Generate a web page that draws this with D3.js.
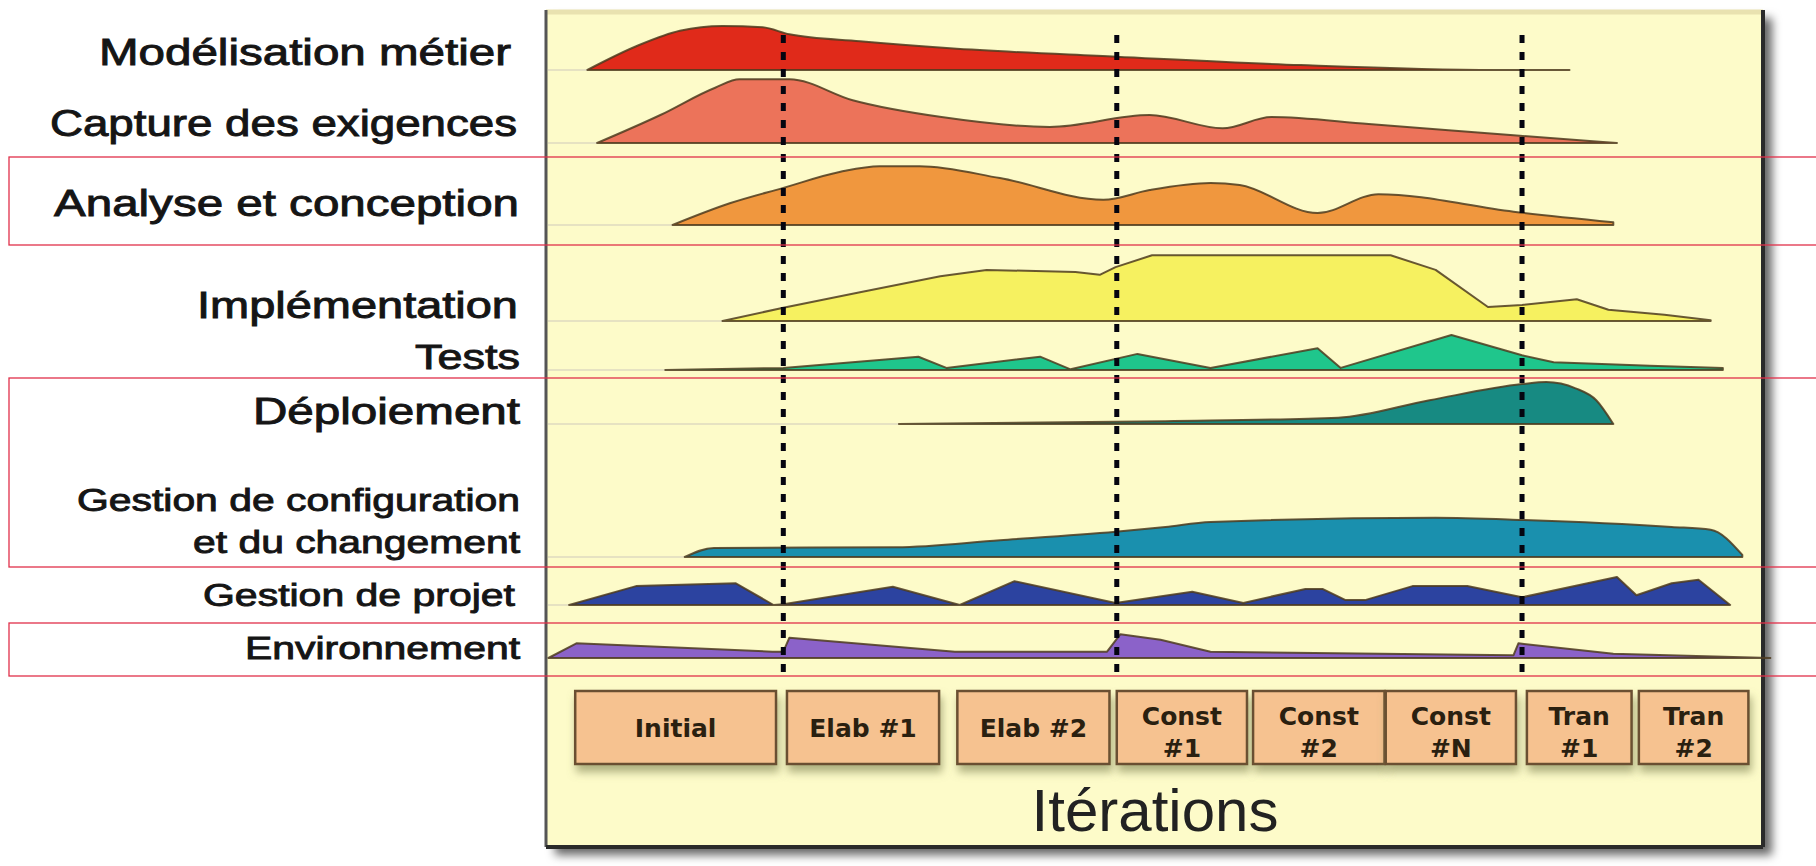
<!DOCTYPE html>
<html><head><meta charset="utf-8">
<script src="https://cdn.jsdelivr.net/npm/d3@7"></script>
<style>html,body{margin:0;padding:0;background:#fff;overflow:hidden}</style>
</head><body>
<svg id="c" width="1816" height="866"></svg>
<script>
// ---------- DATA ----------
const disciplines = ["Modélisation métier","Capture des exigences","Analyse et conception","Implémentation","Tests","Déploiement","Gestion de configuration|et du changement","Gestion de projet","Environnement"];

// time axis: 0..100 (% of project), effort: 0..100
const modelisationT = [3.4, 7.7, 11.0, 14.5, 17.8, 20.0, 25.8, 33.2, 46.9, 62.0, 78.0, 84.1];
const modelisationV = [0, 36, 56, 63, 61, 51, 41, 31, 19, 7, 0, 0];

const captureT = [4.2, 9.4, 13.9, 15.9, 20.0, 25.2, 32.5, 41.4, 49.6, 55.6, 59.6, 67.6, 79.5, 88.0];
const captureV = [0, 40, 79, 91, 91, 61, 37, 23, 40, 21, 37, 27, 11, 0];

const analyseT = [10.4, 15.1, 19.5, 24.2, 27.4, 30.7, 37.3, 45.8, 49.6, 54.6, 57.0, 63.4, 68.4, 79.5, 87.7];
const analyseV = [0, 31, 53, 76, 84, 84, 67, 36, 50, 60, 57, 17, 44, 19, 4];

const implementationT = [14.5, 19.5, 25.8, 32.4, 36.2, 43.5, 45.5, 46.8, 49.8, 69.4, 73.1, 77.4, 80.2, 84.7, 87.3, 91.9, 95.7];
const implementationV = [0, 19, 41, 64, 73, 70, 66, 77, 94, 94, 73, 20, 23, 31, 16, 9, 1];

const testsT = [9.8, 19.5, 30.6, 32.9, 40.6, 43.1, 48.6, 54.6, 63.4, 65.3, 74.4, 80.2, 82.8, 90.7, 96.7];
const testsV = [0, 3, 19, 3, 19, 1, 23, 3, 31, 3, 50, 21, 11, 6, 3];

const deploiementT = [29.0, 50.9, 65.1, 72.6, 80.2, 82.2, 84.6, 86.3, 87.7];
const deploiementV = [0, 4, 9, 34, 57, 60, 51, 34, 0];

const configurationT = [11.4, 13.8, 28.8, 37.3, 46.8, 50.9, 54.6, 73.1, 80.2, 92.5, 95.7, 98.3];
const configurationV = [0, 13, 14, 24, 36, 43, 50, 56, 53, 43, 39, 3];

const projetT = [1.9, 7.4, 15.6, 18.7, 19.5, 28.5, 34.0, 38.5, 46.8, 53.1, 57.3, 62.4, 63.8, 65.7, 67.3, 71.2, 75.7, 80.2, 88.0, 89.6, 92.5, 94.7, 97.3];
const projetV = [0, 27, 31, 0, 1, 26, 0, 34, 3, 19, 3, 23, 23, 7, 7, 27, 27, 11, 40, 14, 31, 36, 0];

const environnementT = [0.2, 2.5, 18.6, 19.5, 20.0, 33.6, 46.1, 47.2, 50.5, 54.6, 79.5, 79.9, 87.7, 100.6];
const environnementV = [0, 21, 9, 9, 29, 9, 9, 34, 26, 9, 4, 21, 6, 0];

const iterations = ["Initial","Elab #1","Elab #2","Const|#1","Const|#2","Const|#N","Tran|#1","Tran|#2"];
const iterationStart = [2.4, 19.8, 33.8, 46.9, 58.1, 69.0, 80.6, 89.8];
const iterationEnd   = [18.9, 32.3, 46.3, 57.6, 68.9, 79.7, 89.2, 98.8];
const milestones = [19.5, 46.9, 80.2];
const axisTitle = "Itérations";

// ---------- LAYOUT / STYLE ----------
const W = 1816, H = 866;
const panel = {x0: 546, x1: 1763, y0: 10, y1: 847};
const rowBase = [70, 143, 225, 321, 370, 424, 557, 605, 658];
const colors = ["#e02a1a","#ec735a","#f0973e","#f6f160","#1fc68c","#178a82","#1a90ae","#2c43a0","#8b62c9"];
const curves = [d3.curveMonotoneX, d3.curveMonotoneX, d3.curveMonotoneX, d3.curveLinear, d3.curveLinear, d3.curveMonotoneX, d3.curveMonotoneX, d3.curveLinear, d3.curveLinear];
const labelLayout = [
  {right:[511], base:[65],  len:[412], size:36},
  {right:[517], base:[136], len:[467], size:36},
  {right:[519], base:[216], len:[465], size:37},
  {right:[518], base:[318], len:[321], size:36},
  {right:[520], base:[369], len:[105], size:35},
  {right:[520], base:[424], len:[267], size:36},
  {right:[520,520], base:[511,553], len:[443,327], size:32},
  {right:[515], base:[606], len:[312], size:32},
  {right:[520], base:[659], len:[275], size:31}
];
const boxTop = 691, boxBottom = 764;

const seriesT = [modelisationT, captureT, analyseT, implementationT, testsT, deploiementT, configurationT, projetT, environnementT];
const seriesV = [modelisationV, captureV, analyseV, implementationV, testsV, deploiementV, configurationV, projetV, environnementV];

// ---------- SCALES ----------
const x = d3.scaleLinear().domain([0, 100]).range([panel.x0, panel.x1]);
const amp = d3.scaleLinear().domain([0, 100]).range([0, 70]);

const svg = d3.select("#c");
const defs = svg.append("defs");
const f1 = defs.append("filter").attr("id","pshadow").attr("x","-5%").attr("y","-5%").attr("width","115%").attr("height","115%");
f1.append("feDropShadow").attr("dx",9).attr("dy",8).attr("stdDeviation",5).attr("flood-color","#000").attr("flood-opacity",0.6);
const f2 = defs.append("filter").attr("id","bshadow").attr("x","-20%").attr("y","-20%").attr("width","140%").attr("height","160%");
f2.append("feDropShadow").attr("dx",2).attr("dy",7).attr("stdDeviation",4).attr("flood-color","#7d8050").attr("flood-opacity",0.6);

svg.append("rect").attr("width",W).attr("height",H).attr("fill","#fff");

// panel
svg.append("rect").attr("x",panel.x0).attr("y",panel.y0)
  .attr("width",panel.x1-panel.x0).attr("height",panel.y1-panel.y0)
  .attr("fill","#fdfbc9").attr("filter","url(#pshadow)");
svg.append("line").attr("x1",panel.x0).attr("x2",panel.x1).attr("y1",panel.y0+2).attr("y2",panel.y0+2)
  .attr("stroke","#e9e2b0").attr("stroke-width",5);
svg.append("line").attr("x1",panel.x0).attr("x2",panel.x0).attr("y1",panel.y0).attr("y2",panel.y1)
  .attr("stroke","#555").attr("stroke-width",3);
svg.append("line").attr("x1",panel.x1).attr("x2",panel.x1).attr("y1",panel.y0).attr("y2",panel.y1)
  .attr("stroke","#2a2a2a").attr("stroke-width",4);
svg.append("line").attr("x1",panel.x0).attr("x2",panel.x1).attr("y1",panel.y1).attr("y2",panel.y1)
  .attr("stroke","#2a2a2a").attr("stroke-width",4);

// faint guide lines at baselines
svg.append("g").selectAll("line").data(rowBase).join("line")
  .attr("x1", panel.x0 + 2).attr("x2", (d,i)=>x(seriesT[i][0]))
  .attr("y1", d=>d).attr("y2", d=>d)
  .attr("stroke","#e6e2c2").attr("stroke-width",2);

// workflow humps
const g = svg.append("g");
seriesT.forEach((ts, i) => {
  const pts = ts.map((t, k) => ({t, v: seriesV[i][k]}));
  const area = d3.area().x(d => x(d.t)).y0(rowBase[i]).y1(d => rowBase[i] - amp(d.v)).curve(curves[i]);
  g.append("path").datum(pts).attr("d", area)
    .attr("fill", colors[i]).attr("stroke","#4d3b1f").attr("stroke-width",2).attr("stroke-linejoin","round").attr("stroke-opacity",0.85);
});

// milestone dotted lines
svg.append("g").selectAll("line").data(milestones).join("line")
  .attr("x1", d=>x(d)).attr("x2", d=>x(d)).attr("y1", 35).attr("y2", 672)
  .attr("stroke","#050510").attr("stroke-width",5).attr("stroke-dasharray","8 9");

// labels
const lg = svg.append("g").attr("font-family","'Liberation Sans', Arial, sans-serif").attr("fill","#151515")
  .attr("stroke","#151515").attr("stroke-width",0.9);
disciplines.forEach((name, i) => {
  const lines = name.split("|");
  const L = labelLayout[i];
  lines.forEach((ln, k) => {
    lg.append("text").attr("x", L.right[k] - L.len[k]).attr("y", L.base[k])
      .attr("font-size", L.size).attr("textLength", L.len[k]).attr("lengthAdjust","spacingAndGlyphs")
      .text(ln);
  });
});

// iteration boxes
const bg = svg.append("g");
iterations.forEach((name, i) => {
  const x0 = x(iterationStart[i]), x1 = x(iterationEnd[i]);
  bg.append("rect").attr("x", x0).attr("y", boxTop).attr("width", x1-x0).attr("height", boxBottom-boxTop)
    .attr("fill","#f6c290").attr("stroke","#6b5030").attr("stroke-width",2.5).attr("filter","url(#bshadow)");
  const lines = name.split("|");
  const bases = lines.length === 1 ? [737] : [725, 757];
  lines.forEach((ln, k) => {
    bg.append("text").attr("x",(x0+x1)/2).attr("y",bases[k]).attr("text-anchor","middle")
      .attr("font-family","'DejaVu Sans', Verdana, sans-serif").attr("font-weight","bold")
      .attr("font-size",25).attr("fill","#2a2010").text(ln);
  });
});

svg.append("text").attr("x",1155).attr("y",831).attr("text-anchor","middle")
  .attr("font-family","'Liberation Sans', Arial, sans-serif").attr("font-size",60).attr("fill","#222")
  .text(axisTitle);

// red highlight frames (present in reference)
const frames = [[157,245],[378,567],[623,676]];
svg.append("g").selectAll("rect").data(frames).join("rect")
  .attr("x",9).attr("y",d=>d[0]).attr("width",W).attr("height",d=>d[1]-d[0])
  .attr("fill","none").attr("stroke","#e0304a").attr("stroke-width",1.3);
</script>
</body></html>
